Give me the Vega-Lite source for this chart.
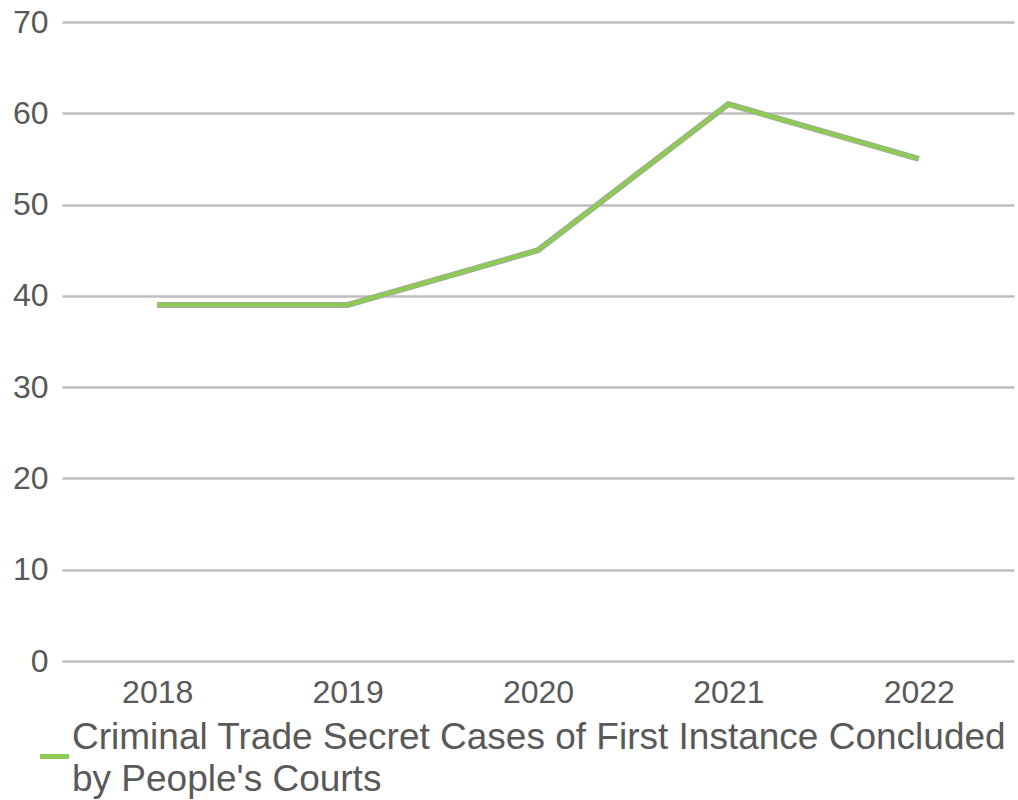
{
  "$schema": "https://vega.github.io/schema/vega-lite/v6.json",
  "autosize": {"type": "none"},
  "width": 952,
  "height": 639,
  "padding": {"left": 62, "top": 22, "right": 4, "bottom": 139},
  "background": "white",
  "config": {"view": {"stroke": null}, "font": "Liberation Sans"},
  "data": {
    "values": [
      {"year": "2018", "cases": 39, "series": "Criminal Trade Secret Cases of First Instance Concluded by People's Courts"},
      {"year": "2019", "cases": 39, "series": "Criminal Trade Secret Cases of First Instance Concluded by People's Courts"},
      {"year": "2020", "cases": 45, "series": "Criminal Trade Secret Cases of First Instance Concluded by People's Courts"},
      {"year": "2021", "cases": 61, "series": "Criminal Trade Secret Cases of First Instance Concluded by People's Courts"},
      {"year": "2022", "cases": 55, "series": "Criminal Trade Secret Cases of First Instance Concluded by People's Courts"}
    ]
  },
  "encoding": {
    "x": {
      "field": "year", "type": "ordinal",
      "scale": {"type": "point", "padding": 0.5},
      "axis": {"title": null, "domain": false, "ticks": false, "grid": false, "labelAngle": 0,
               "labelFontSize": 32, "labelColor": "#595959", "labelPadding": 16}
    },
    "y": {
      "field": "cases", "type": "quantitative",
      "scale": {"domain": [0, 70], "nice": false},
      "axis": {"title": null, "domain": false, "ticks": false, "values": [0,10,20,30,40,50,60,70],
               "gridColor": "#BFBFBF", "gridWidth": 2.5, "gridOpacity": 1,
               "labelFontSize": 32, "labelColor": "#595959", "labelPadding": 14}
    }
  },
  "layer": [
    {
      "mark": {"type": "line", "stroke": "#A3AC97", "strokeWidth": 6, "strokeJoin": "miter"}
    },
    {
      "mark": {"type": "line", "strokeWidth": 4, "strokeJoin": "miter"},
      "encoding": {
        "color": {
          "field": "series", "type": "nominal",
          "scale": {"range": ["#8DCB55"]},
          "legend": {
            "title": null, "orient": "none", "legendX": -26, "legendY": 716,
            "symbolType": "stroke", "symbolStrokeWidth": 5, "symbolSize": 841,
            "labelFontSize": 37, "labelColor": "#595959", "labelLimit": 0,
            "labelOffset": -1, "labelBaseline": "bottom",
            "labelExpr": "['Criminal Trade Secret Cases of First Instance Concluded', 'by People\\'s Courts']",
            "encode": {"labels": {"update": {"lineHeight": {"value": 42}}}}
          }
        }
      }
    }
  ]
}
